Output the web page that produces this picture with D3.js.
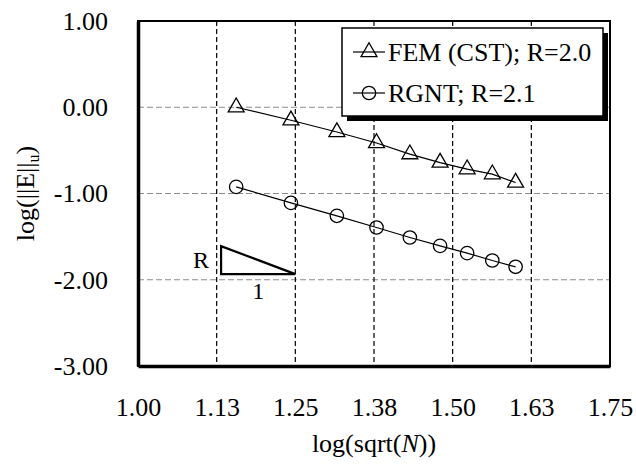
<!DOCTYPE html>
<html>
<head>
<meta charset="utf-8">
<script src="https://cdn.jsdelivr.net/npm/d3@7/dist/d3.min.js"></script>
<style>
    html, body { margin: 0; padding: 0; background: #fff; }
    svg text { font-family: "Liberation Serif", "Times New Roman", serif; }
</style>
</head>
<body>
<div id="chart"></div>
<script>
// Data
const xTicks = [1.0, 1.125, 1.25, 1.375, 1.5, 1.625, 1.75]
const xTickLabels = ['1.00', '1.13', '1.25', '1.38', '1.50', '1.63', '1.75']
const yTicks = [1, 0, -1, -2, -3]
const yTickLabels = ['1.00', '0.00', '-1.00', '-2.00', '-3.00']
const logSqrtN = [1.156, 1.243, 1.316, 1.379, 1.432, 1.480, 1.523, 1.563, 1.600]
const femError = [0.00, -0.151, -0.287, -0.414, -0.544, -0.642, -0.718, -0.776, -0.873]
const rgntError = [-0.923, -1.109, -1.259, -1.394, -1.510, -1.607, -1.691, -1.777, -1.850]
const seriesNames = ['FEM (CST); R=2.0', 'RGNT; R=2.1']
const seriesSymbols = ['triangle', 'circle']
const slopeX = [1.132, 1.25]
const slopeY = [-1.61, -1.935]

const width = 636
const height = 468
const margin = { top: 21, right: 26, bottom: 102, left: 138 }
const chartWidth = width - margin.left - margin.right
const chartHeight = height - margin.top - margin.bottom
const serif = '"Liberation Serif", "Times New Roman", serif'

const svg = d3.select('#chart').append('svg')
    .attr('width', width)
    .attr('height', height)

const x = d3.scaleLinear().domain([1, 1.75]).range([0, chartWidth])
const y = d3.scaleLinear().domain([-3, 1]).range([chartHeight, 0])

const g = svg.append('g').attr('transform', `translate(${margin.left},${margin.top})`)

// Grid
g.append('g')
    .selectAll('line')
    .data(yTicks.filter(d => d > -3 && d < 1))
    .join('line')
    .attr('x1', 0).attr('x2', chartWidth)
    .attr('y1', d => y(d)).attr('y2', d => y(d))
    .attr('stroke', '#8c8c8c')
    .attr('stroke-width', 1)
    .attr('stroke-dasharray', '6,3')

g.append('g')
    .selectAll('line')
    .data(xTicks.filter(d => d > 1 && d < 1.75))
    .join('line')
    .attr('x1', d => x(d)).attr('x2', d => x(d))
    .attr('y1', 0).attr('y2', chartHeight)
    .attr('stroke', '#000')
    .attr('stroke-width', 1.2)
    .attr('stroke-dasharray', '5,3')

// Frame
g.append('rect')
    .attr('width', chartWidth).attr('height', chartHeight)
    .attr('fill', 'none').attr('stroke', '#000').attr('stroke-width', 2)

// Axes
const xAxis = d3.axisBottom(x)
    .tickValues(xTicks)
    .tickFormat((d, i) => xTickLabels[i])
    .tickSize(0)
    .tickPadding(32)
const yAxis = d3.axisLeft(y)
    .tickValues(yTicks)
    .tickFormat((d, i) => yTickLabels[i])
    .tickSize(0)
    .tickPadding(30)

const gx = g.append('g').attr('transform', `translate(0,${chartHeight})`).call(xAxis)
const gy = g.append('g').call(yAxis)
;[gx, gy].forEach(a => {
    a.attr('font-family', serif).attr('font-size', 26)
    a.select('.domain').attr('stroke', '#000').attr('stroke-width', 3.5)
    a.selectAll('text').attr('fill', '#000')
})

// Axis titles
svg.append('text')
    .attr('x', margin.left + chartWidth / 2)
    .attr('y', 452)
    .attr('text-anchor', 'middle')
    .attr('font-family', serif)
    .attr('font-size', 26)
    .call(t => {
        t.append('tspan').text('log(sqrt(')
        t.append('tspan').attr('font-style', 'italic').text('N')
        t.append('tspan').text('))')
    })

svg.append('text')
    .attr('transform', `translate(34,${margin.top + chartHeight / 2}) rotate(-90)`)
    .attr('text-anchor', 'middle')
    .attr('font-family', serif)
    .attr('font-size', 26)
    .call(t => {
        t.append('tspan').text('log(||E||')
        t.append('tspan').attr('font-size', 16).attr('dy', 5).text('u')
        t.append('tspan').attr('dy', -5).text(')')
    })

// Series
const series = [femError, rgntError]
const line = d3.line().x(d => x(d[0])).y(d => y(d[1]))
const triangle = d3.symbol().type(d3.symbolTriangle).size(110)
const circle = d3.arc()({ innerRadius: 0, outerRadius: 6.7, startAngle: 0, endAngle: 2 * Math.PI })

series.forEach((values, s) => {
    const pts = logSqrtN.map((v, i) => [v, values[i]])
    g.append('path')
        .datum(pts)
        .attr('d', line)
        .attr('fill', 'none')
        .attr('stroke', '#000')
        .attr('stroke-width', 1.2)
    g.append('g').selectAll('path.mark')
        .data(pts)
        .join('path')
        .attr('class', 'mark')
        .attr('transform', d => `translate(${x(d[0])},${y(d[1])})`)
        .attr('d', seriesSymbols[s] === 'triangle' ? triangle() : circle)
        .attr('fill', 'none')
        .attr('stroke', '#000')
        .attr('stroke-width', 1.3)
})

// Slope triangle
g.append('path')
    .attr('d', `M${x(slopeX[0])},${y(slopeY[0])}L${x(slopeX[0])},${y(slopeY[1])}L${x(slopeX[1])},${y(slopeY[1])}Z`)
    .attr('fill', 'none')
    .attr('stroke', '#000')
    .attr('stroke-width', 2.2)
g.append('text')
    .attr('x', x(slopeX[0]) - 12)
    .attr('y', y((slopeY[0] + slopeY[1]) / 2) + 8)
    .attr('text-anchor', 'end')
    .attr('font-family', serif)
    .attr('font-size', 24)
    .text('R')
g.append('text')
    .attr('x', x((slopeX[0] + slopeX[1]) / 2))
    .attr('y', y(slopeY[1]) + 25)
    .attr('text-anchor', 'middle')
    .attr('font-family', serif)
    .attr('font-size', 24)
    .text('1')

// Legend
const legend = svg.append('g').attr('transform', 'translate(342,28)')
legend.append('rect')
    .attr('x', 5).attr('y', 5)
    .attr('width', 261).attr('height', 88)
    .attr('fill', '#000')
legend.append('rect')
    .attr('width', 261).attr('height', 88)
    .attr('fill', '#fff')
    .attr('stroke', '#000')
    .attr('stroke-width', 1.5)

seriesNames.forEach((name, s) => {
    const row = legend.append('g').attr('transform', `translate(0,${24 + s * 41})`)
    row.append('line')
        .attr('x1', 11).attr('x2', 43)
        .attr('stroke', '#000').attr('stroke-width', 1.2)
    row.append('path')
        .attr('transform', 'translate(27,0)')
        .attr('d', seriesSymbols[s] === 'triangle' ? triangle() : circle)
        .attr('fill', 'none')
        .attr('stroke', '#000')
        .attr('stroke-width', 1.3)
    row.append('text')
        .attr('x', 46)
        .attr('y', 9)
        .attr('font-family', serif)
        .attr('font-size', 26)
        .text(name)
})
</script>
</body>
</html>
